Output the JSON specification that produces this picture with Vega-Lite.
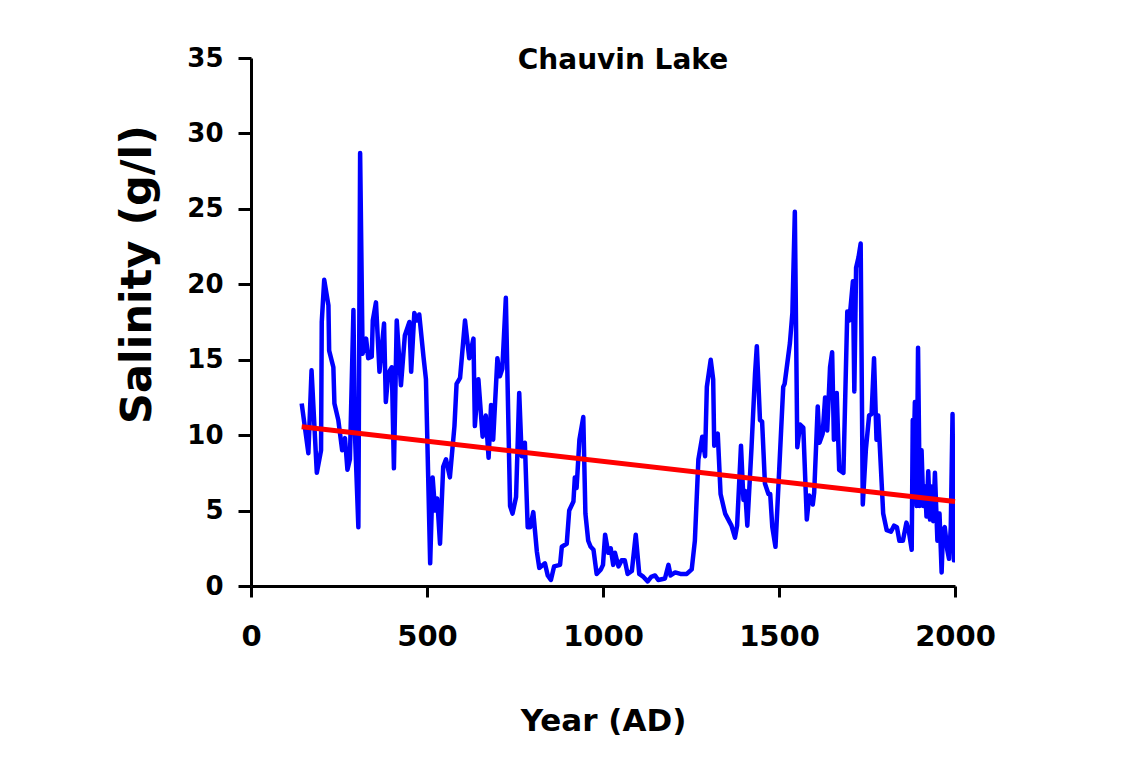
{
  "$schema": "https://vega.github.io/schema/vega-lite/v6.json",
  "autosize": "none",
  "width": 704,
  "height": 528,
  "padding": {"left": 251, "top": 58, "right": 180, "bottom": 171},
  "background": "white",
  "config": {
    "view": {"stroke": null},
    "axis": {
      "grid": false,
      "domainColor": "black",
      "domainWidth": 3,
      "tickColor": "black",
      "tickWidth": 3,
      "labelFont": "DejaVu Sans",
      "labelFontWeight": "bold",
      "labelColor": "black",
      "titleFont": "DejaVu Sans",
      "titleFontWeight": "bold",
      "titleColor": "black"
    }
  },
  "title": {
    "text": "Chauvin Lake",
    "font": "DejaVu Sans",
    "fontWeight": "bold",
    "fontSize": 28,
    "color": "black",
    "anchor": "middle",
    "frame": "group",
    "baseline": "alphabetic",
    "offset": 0,
    "dx": 20,
    "dy": 52
  },
  "datasets": {
    "salinity": [
      {"year": 144, "salinity": 12.1}, {"year": 163, "salinity": 8.8}, {"year": 172, "salinity": 14.3},
      {"year": 187, "salinity": 7.5}, {"year": 199, "salinity": 9.0}, {"year": 201, "salinity": 17.5},
      {"year": 208, "salinity": 20.3}, {"year": 220, "salinity": 18.6}, {"year": 222, "salinity": 15.6},
      {"year": 234, "salinity": 14.5}, {"year": 237, "salinity": 12.1}, {"year": 248, "salinity": 11.0},
      {"year": 259, "salinity": 9.0}, {"year": 267, "salinity": 9.8}, {"year": 274, "salinity": 7.7},
      {"year": 281, "salinity": 8.4}, {"year": 291, "salinity": 18.3}, {"year": 295, "salinity": 10.3},
      {"year": 305, "salinity": 3.9}, {"year": 310, "salinity": 28.7}, {"year": 317, "salinity": 15.4},
      {"year": 327, "salinity": 16.4}, {"year": 333, "salinity": 15.1}, {"year": 343, "salinity": 15.2},
      {"year": 346, "salinity": 17.6}, {"year": 355, "salinity": 18.8}, {"year": 365, "salinity": 14.2},
      {"year": 378, "salinity": 17.4}, {"year": 383, "salinity": 12.2}, {"year": 390, "salinity": 14.1},
      {"year": 400, "salinity": 14.5}, {"year": 406, "salinity": 7.8}, {"year": 414, "salinity": 17.6},
      {"year": 426, "salinity": 13.3}, {"year": 437, "salinity": 16.6}, {"year": 450, "salinity": 17.5},
      {"year": 455, "salinity": 14.2}, {"year": 464, "salinity": 18.1}, {"year": 471, "salinity": 17.6},
      {"year": 478, "salinity": 18.0}, {"year": 490, "salinity": 15.2}, {"year": 497, "salinity": 13.7},
      {"year": 509, "salinity": 1.5}, {"year": 516, "salinity": 7.2}, {"year": 523, "salinity": 5.0},
      {"year": 529, "salinity": 5.8}, {"year": 537, "salinity": 2.8}, {"year": 546, "salinity": 7.9},
      {"year": 554, "salinity": 8.4}, {"year": 565, "salinity": 7.2}, {"year": 578, "salinity": 10.6},
      {"year": 584, "salinity": 13.4}, {"year": 594, "salinity": 13.8}, {"year": 608, "salinity": 17.6},
      {"year": 620, "salinity": 15.1}, {"year": 632, "salinity": 16.4}, {"year": 636, "salinity": 10.6},
      {"year": 646, "salinity": 13.7}, {"year": 658, "salinity": 9.9}, {"year": 667, "salinity": 11.3},
      {"year": 675, "salinity": 8.5}, {"year": 682, "salinity": 12.0}, {"year": 688, "salinity": 9.7},
      {"year": 700, "salinity": 15.1}, {"year": 707, "salinity": 13.9}, {"year": 714, "salinity": 14.4},
      {"year": 724, "salinity": 19.1}, {"year": 736, "salinity": 5.3}, {"year": 743, "salinity": 4.8},
      {"year": 753, "salinity": 5.9}, {"year": 762, "salinity": 12.8}, {"year": 769, "salinity": 8.6},
      {"year": 778, "salinity": 9.5}, {"year": 786, "salinity": 3.9}, {"year": 793, "salinity": 3.9},
      {"year": 802, "salinity": 4.9}, {"year": 812, "salinity": 2.3}, {"year": 819, "salinity": 1.2},
      {"year": 835, "salinity": 1.5}, {"year": 843, "salinity": 0.7}, {"year": 852, "salinity": 0.4},
      {"year": 861, "salinity": 1.3}, {"year": 878, "salinity": 1.4}, {"year": 883, "salinity": 2.6},
      {"year": 897, "salinity": 2.8}, {"year": 904, "salinity": 5.0}, {"year": 916, "salinity": 5.6},
      {"year": 920, "salinity": 7.2}, {"year": 925, "salinity": 6.5}, {"year": 933, "salinity": 9.7},
      {"year": 944, "salinity": 11.2}, {"year": 950, "salinity": 4.8}, {"year": 958, "salinity": 3.0},
      {"year": 965, "salinity": 2.6}, {"year": 973, "salinity": 2.4}, {"year": 982, "salinity": 0.8},
      {"year": 994, "salinity": 1.1}, {"year": 1000, "salinity": 1.4}, {"year": 1006, "salinity": 3.4},
      {"year": 1015, "salinity": 2.2}, {"year": 1022, "salinity": 2.5}, {"year": 1029, "salinity": 1.4},
      {"year": 1034, "salinity": 2.2}, {"year": 1044, "salinity": 1.3}, {"year": 1053, "salinity": 1.7},
      {"year": 1062, "salinity": 1.7}, {"year": 1070, "salinity": 0.8}, {"year": 1082, "salinity": 1.0},
      {"year": 1093, "salinity": 3.4}, {"year": 1103, "salinity": 0.8}, {"year": 1115, "salinity": 0.6},
      {"year": 1127, "salinity": 0.3}, {"year": 1137, "salinity": 0.6}, {"year": 1148, "salinity": 0.7},
      {"year": 1157, "salinity": 0.4}, {"year": 1176, "salinity": 0.5}, {"year": 1186, "salinity": 1.4},
      {"year": 1192, "salinity": 0.7}, {"year": 1205, "salinity": 0.9}, {"year": 1220, "salinity": 0.8},
      {"year": 1238, "salinity": 0.8}, {"year": 1252, "salinity": 1.1}, {"year": 1261, "salinity": 3.0},
      {"year": 1271, "salinity": 8.4}, {"year": 1282, "salinity": 9.9}, {"year": 1290, "salinity": 8.6},
      {"year": 1295, "salinity": 13.2}, {"year": 1306, "salinity": 15.0}, {"year": 1313, "salinity": 13.7},
      {"year": 1316, "salinity": 9.3}, {"year": 1326, "salinity": 10.1}, {"year": 1334, "salinity": 6.1},
      {"year": 1347, "salinity": 4.8}, {"year": 1356, "salinity": 4.4}, {"year": 1365, "salinity": 4.0},
      {"year": 1375, "salinity": 3.2}, {"year": 1381, "salinity": 4.0}, {"year": 1392, "salinity": 9.3},
      {"year": 1399, "salinity": 5.7}, {"year": 1404, "salinity": 6.3}, {"year": 1410, "salinity": 4.0},
      {"year": 1422, "salinity": 9.2}, {"year": 1432, "salinity": 14.1}, {"year": 1437, "salinity": 15.9},
      {"year": 1446, "salinity": 11.0}, {"year": 1452, "salinity": 10.9}, {"year": 1460, "salinity": 6.8},
      {"year": 1470, "salinity": 6.1}, {"year": 1475, "salinity": 6.1}, {"year": 1481, "salinity": 3.9},
      {"year": 1490, "salinity": 2.6}, {"year": 1501, "salinity": 7.9}, {"year": 1512, "salinity": 13.2},
      {"year": 1516, "salinity": 13.4}, {"year": 1531, "salinity": 16.1}, {"year": 1538, "salinity": 18.1},
      {"year": 1545, "salinity": 24.8}, {"year": 1552, "salinity": 9.2}, {"year": 1560, "salinity": 10.7},
      {"year": 1569, "salinity": 10.5}, {"year": 1579, "salinity": 4.4}, {"year": 1586, "salinity": 6.0},
      {"year": 1596, "salinity": 5.4}, {"year": 1600, "salinity": 6.2}, {"year": 1610, "salinity": 11.9},
      {"year": 1615, "salinity": 9.5}, {"year": 1624, "salinity": 10.1}, {"year": 1631, "salinity": 12.5},
      {"year": 1637, "salinity": 10.3}, {"year": 1645, "salinity": 14.5}, {"year": 1651, "salinity": 15.5},
      {"year": 1656, "salinity": 9.7}, {"year": 1664, "salinity": 12.8}, {"year": 1671, "salinity": 7.7},
      {"year": 1683, "salinity": 7.5}, {"year": 1694, "salinity": 18.2}, {"year": 1700, "salinity": 17.6},
      {"year": 1710, "salinity": 20.2}, {"year": 1714, "salinity": 12.9}, {"year": 1719, "salinity": 21.1},
      {"year": 1726, "salinity": 21.8}, {"year": 1732, "salinity": 22.7}, {"year": 1738, "salinity": 5.4},
      {"year": 1747, "salinity": 9.1}, {"year": 1756, "salinity": 11.3}, {"year": 1763, "salinity": 11.4},
      {"year": 1770, "salinity": 15.1}, {"year": 1777, "salinity": 9.7}, {"year": 1782, "salinity": 11.3},
      {"year": 1796, "salinity": 4.8}, {"year": 1806, "salinity": 3.7}, {"year": 1818, "salinity": 3.6},
      {"year": 1827, "salinity": 4.0}, {"year": 1835, "salinity": 3.9}, {"year": 1842, "salinity": 3.0},
      {"year": 1852, "salinity": 3.0}, {"year": 1862, "salinity": 4.2}, {"year": 1869, "salinity": 3.6},
      {"year": 1877, "salinity": 2.4}, {"year": 1880, "salinity": 11.0}, {"year": 1883, "salinity": 9.0},
      {"year": 1886, "salinity": 12.2}, {"year": 1891, "salinity": 5.3}, {"year": 1895, "salinity": 15.8},
      {"year": 1900, "salinity": 5.3}, {"year": 1905, "salinity": 9.0}, {"year": 1910, "salinity": 5.3},
      {"year": 1915, "salinity": 6.6}, {"year": 1919, "salinity": 4.6}, {"year": 1924, "salinity": 7.6},
      {"year": 1929, "salinity": 4.4}, {"year": 1933, "salinity": 6.6}, {"year": 1938, "salinity": 4.3},
      {"year": 1943, "salinity": 7.5}, {"year": 1950, "salinity": 3.0}, {"year": 1956, "salinity": 4.8},
      {"year": 1962, "salinity": 0.9}, {"year": 1966, "salinity": 3.7}, {"year": 1971, "salinity": 3.9},
      {"year": 1978, "salinity": 2.4}, {"year": 1983, "salinity": 1.8}, {"year": 1988, "salinity": 3.9},
      {"year": 1993, "salinity": 11.4}, {"year": 1997, "salinity": 1.7}, {"year": 2000, "salinity": 7.9}
    ],
    "trend": [
      {"year": 144, "salinity": 10.55},
      {"year": 2000, "salinity": 5.6}
    ]
  },
  "encoding": {
    "x": {
      "field": "year",
      "type": "quantitative",
      "scale": {"domain": [0, 2000], "nice": false, "zero": false},
      "axis": {
        "title": "Year (AD)",
        "values": [0, 500, 1000, 1500, 2000],
        "format": "d",
        "tickSize": 11,
        "labelFontSize": 29,
        "labelPadding": 25,
        "labelFlush": false,
        "labelOverlap": false,
        "titleFontSize": 31,
        "titleBaseline": "alphabetic",
        "titleY": 144
      }
    },
    "y": {
      "field": "salinity",
      "type": "quantitative",
      "scale": {"domain": [0, 35], "nice": false},
      "axis": {
        "title": "Salinity (g/l)",
        "values": [0, 5, 10, 15, 20, 25, 30, 35],
        "tickSize": 13,
        "labelFontSize": 26,
        "labelPadding": 15,
        "labelFlush": false,
        "labelOverlap": false,
        "titleFontSize": 43,
        "titleAngle": 270,
        "titleAlign": "center",
        "titleBaseline": "alphabetic",
        "titleX": -101,
        "titleY": 216
      }
    }
  },
  "layer": [
    {
      "data": {"name": "salinity"},
      "mark": {"type": "line", "color": "#0000FF", "strokeWidth": 4.5, "strokeJoin": "round", "clip": true}
    },
    {
      "data": {"name": "trend"},
      "mark": {"type": "line", "color": "#FF0000", "strokeWidth": 5}
    }
  ]
}
